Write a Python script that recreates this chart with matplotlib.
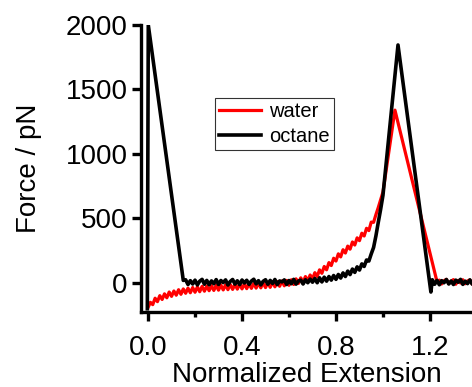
import numpy as np
import matplotlib.pyplot as plt
from matplotlib.ticker import MultipleLocator

plt.rcParams['font.family'] = ['Liberation Sans', 'DejaVu Sans']

# octane trace: retract spike, noisy baseline with rise, peak, drop, tail
oct_x0 = [-0.003, 0.001, 0.15]
oct_y0 = [-200, 2000, 20]
oct_xb = np.round(np.arange(0.16, 1.005, 0.01), 2)
oct_yb = [25, -12, 18, -8, 22, -15, 14, 28, -10, 20,
          -14, 16, -6, 26, -12, 19, 3, 24, -16, 12,
          27, -9, 17, -13, 23, 0, 21, -11, 15, 29,
          -7, 18, -15, 13, 25, -10, 20, -4, 27, -13,
          16, 8, 24, -12, 19, -6, 28, -9, 15, 22,
          -8, 25, 2, 30, 6,
          35, 2, 40, 8, 45, 14, 50, 22, 58, 28,
          66, 38, 78, 50, 92, 65, 108, 82, 125, 100,
          148, 128, 178, 170, 225, 275, 365, 470, 570, 680]
oct_x1 = [1.064, 1.204]
oct_y1 = [1845, -70]
oct_xt = np.round(np.arange(1.21, 1.405, 0.01), 2)
oct_yt = [25, -10, 20, -14, 18, 2, 27, -8, 15, -12,
          22, 6, 28, -11, 14, -5, 24, -9, 19, 10]

# water trace
wat_xb = np.round(np.arange(0.0, 1.005, 0.01), 2)
wat_yb = [-190, -150, -168, -118, -145, -98, -128, -84, -115, -70,
          -104, -62, -95, -52, -88, -46, -80, -40, -76, -35,
          -72, -30, -68, -26, -64, -24, -60, -21, -58, -18,
          -56, -16, -54, -14, -52, -12, -50, -10, -48, -8,
          -46, -6, -44, -4, -42, -2, -40, 0, -38, 2,
          -36, 4, -34, 8, -30, 12, -26, 16, -22, 20,
          -18, 25, -12, 32, -4, 40, 5, 50, 16, 62,
          30, 80, 50, 102, 75, 128, 102, 158, 135, 192,
          170, 226, 202, 258, 232, 286, 262, 318, 294, 350,
          328, 386, 364, 424, 406, 472, 470, 530, 585, 645,
          705]
wat_x1 = [1.051, 1.23]
wat_y1 = [1340, 10]
wat_xt = np.round(np.arange(1.24, 1.405, 0.01), 2)
wat_yt = [22, -8, 18, 28, -5, 14, 26, -10, 20, 0,
          25, -6, 16, 24, -9, 19, 5]

oct_x = np.concatenate([oct_x0, oct_xb, oct_x1, oct_xt])
oct_y = np.concatenate([oct_y0, oct_yb, oct_y1, oct_yt])
wat_x = np.concatenate([wat_xb, wat_x1, wat_xt])
wat_y = np.concatenate([wat_yb, wat_y1, wat_yt])

fig = plt.figure(figsize=(4.72, 3.87), dpi=100)
ax = fig.add_axes([141/472, 1-312/387, 331/472, 287/387])

ax.plot(wat_x, wat_y, color='#ff0000', lw=2.3, label='water')
ax.plot(oct_x, oct_y, color='black', lw=2.6, label='octane')

ax.set_xlim(-0.03, 1.379)
ax.set_ylim(-225, 2000)
ax.xaxis.set_minor_locator(MultipleLocator(0.2))
ax.yaxis.set_major_locator(MultipleLocator(500))
ax.set_xticks([0.0, 0.4, 0.8, 1.2])
ax.set_xticklabels(['0.0', '0.4', '0.8', '1.2'])

for s in ['top', 'right']:
    ax.spines[s].set_visible(False)
for s in ['left', 'bottom']:
    ax.spines[s].set_linewidth(2.4)

ax.tick_params(which='major', length=6.5, width=2.4, labelsize=20, pad=3)
ax.tick_params(axis='x', which='major', pad=10)
ax.tick_params(which='minor', length=3.5, width=2.4)

ax.set_xlabel('Normalized Extension', fontsize=20, labelpad=1)
ax.set_ylabel('Force / pN', fontsize=20, labelpad=17)

leg = ax.legend(loc='upper left', bbox_to_anchor=(0.2236, 0.7456),
                borderaxespad=0, fontsize=14.5, frameon=True, fancybox=False,
                edgecolor='black', handlelength=2.1, labelspacing=0.3,
                borderpad=0.2, handletextpad=0.4)
leg.get_frame().set_linewidth(0.8)

fig.savefig('out.png', dpi=100)
